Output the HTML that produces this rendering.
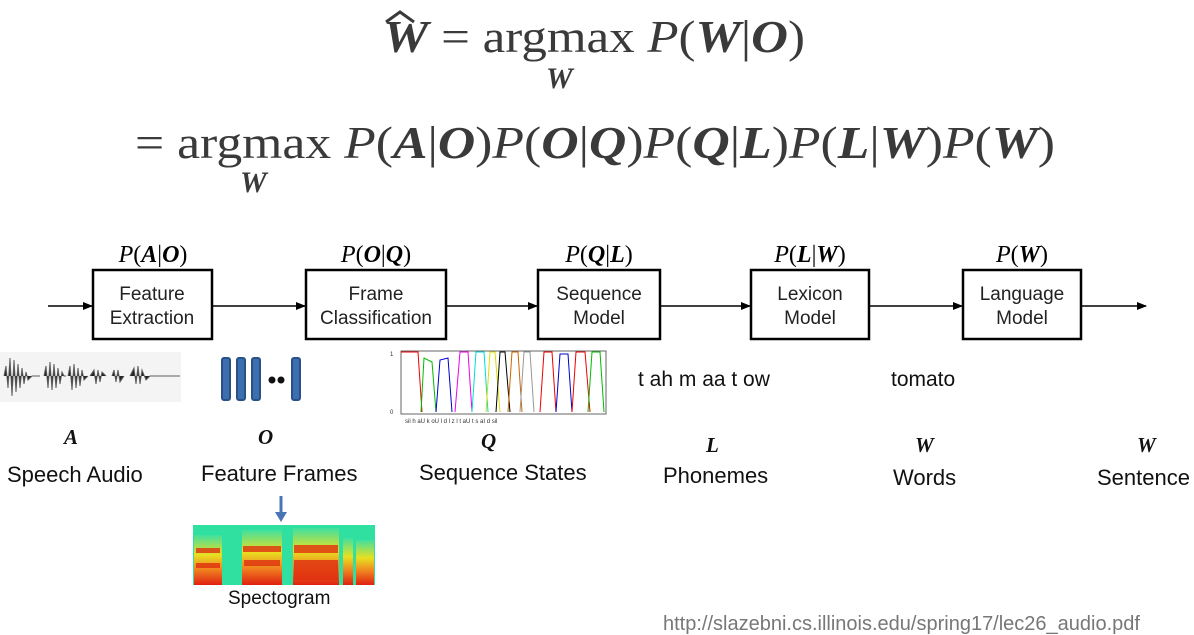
<!DOCTYPE html>
<html><head><meta charset="utf-8"><style>body{margin:0;background:#fff}svg{display:block}</style></head><body>
<svg width="1194" height="635" xmlns="http://www.w3.org/2000/svg" font-family="Liberation Sans, sans-serif">
<defs><marker id="a" markerWidth="10" markerHeight="8" refX="9" refY="4" orient="auto" markerUnits="userSpaceOnUse"><path d="M0,0 L10,4 L0,8 z" fill="#000"/></marker></defs>
<g fill="#3a3a3a" font-family="Liberation Serif, serif" font-size="46">
<text x="383" y="52" textLength="422" lengthAdjust="spacingAndGlyphs"><tspan font-weight="bold" font-style="italic">W</tspan> = argmax <tspan font-style="italic">P</tspan>(<tspan font-weight="bold" font-style="italic">W</tspan>|<tspan font-weight="bold" font-style="italic">O</tspan>)</text>
<path d="M386,22 L400,12 L414,22" stroke="#3a3a3a" stroke-width="3" fill="none"/>
<text x="546" y="88" font-size="30" font-weight="bold" font-style="italic">W</text>
<text x="135" y="158" textLength="920" lengthAdjust="spacingAndGlyphs">= argmax <tspan font-style="italic">P</tspan>(<tspan font-weight="bold" font-style="italic">A</tspan>|<tspan font-weight="bold" font-style="italic">O</tspan>)<tspan font-style="italic">P</tspan>(<tspan font-weight="bold" font-style="italic">O</tspan>|<tspan font-weight="bold" font-style="italic">Q</tspan>)<tspan font-style="italic">P</tspan>(<tspan font-weight="bold" font-style="italic">Q</tspan>|<tspan font-weight="bold" font-style="italic">L</tspan>)<tspan font-style="italic">P</tspan>(<tspan font-weight="bold" font-style="italic">L</tspan>|<tspan font-weight="bold" font-style="italic">W</tspan>)<tspan font-style="italic">P</tspan>(<tspan font-weight="bold" font-style="italic">W</tspan>)</text>
<text x="240" y="192" font-size="30" font-weight="bold" font-style="italic">W</text>
</g>
<g font-family="Liberation Serif, serif" font-size="24" fill="#000" text-anchor="middle">
<text x="153" y="262"><tspan font-style="italic">P</tspan>(<tspan font-weight="bold" font-style="italic">A</tspan>|<tspan font-weight="bold" font-style="italic">O</tspan>)</text>
<text x="376" y="262"><tspan font-style="italic">P</tspan>(<tspan font-weight="bold" font-style="italic">O</tspan>|<tspan font-weight="bold" font-style="italic">Q</tspan>)</text>
<text x="599" y="262"><tspan font-style="italic">P</tspan>(<tspan font-weight="bold" font-style="italic">Q</tspan>|<tspan font-weight="bold" font-style="italic">L</tspan>)</text>
<text x="810" y="262"><tspan font-style="italic">P</tspan>(<tspan font-weight="bold" font-style="italic">L</tspan>|<tspan font-weight="bold" font-style="italic">W</tspan>)</text>
<text x="1022" y="262"><tspan font-style="italic">P</tspan>(<tspan font-weight="bold" font-style="italic">W</tspan>)</text>
</g>
<g stroke="#000" stroke-width="1.5">
<line x1="48" y1="306" x2="92" y2="306" marker-end="url(#a)"/>
<line x1="212" y1="306" x2="305" y2="306" marker-end="url(#a)"/>
<line x1="446" y1="306" x2="537" y2="306" marker-end="url(#a)"/>
<line x1="660" y1="306" x2="750" y2="306" marker-end="url(#a)"/>
<line x1="869" y1="306" x2="962" y2="306" marker-end="url(#a)"/>
<line x1="1081" y1="306" x2="1146" y2="306" marker-end="url(#a)"/>
</g>
<g fill="#fff" stroke="#000" stroke-width="2.5">
<rect x="93" y="270" width="119" height="69"/><rect x="306" y="270" width="140" height="69"/>
<rect x="538" y="270" width="122" height="69"/><rect x="751" y="270" width="118" height="69"/>
<rect x="963" y="270" width="118" height="69"/>
</g>
<g font-size="19" fill="#222" text-anchor="middle">
<text x="152" y="300">Feature</text><text x="152" y="324">Extraction</text>
<text x="376" y="300">Frame</text><text x="376" y="324">Classification</text>
<text x="599" y="300">Sequence</text><text x="599" y="324">Model</text>
<text x="810" y="300">Lexicon</text><text x="810" y="324">Model</text>
<text x="1022" y="300">Language</text><text x="1022" y="324">Model</text>
</g>
<rect x="0" y="352" width="181" height="50" fill="#f4f4f4"/>
<g stroke="#444" stroke-width="1" opacity="0.85">
<path d="M4,376 L6,366 L8,388 L10,358 L12,396 L14,360 L16,392 L18,364 L20,388 L22,368 L24,384 L26,372 L28,380 L32,376 L40,376 M44,376 L46,366 L48,388 L50,362 L52,390 L54,364 L56,388 L58,368 L60,384 L62,372 L64,376 L66,376 M68,376 L70,366 L72,390 L74,364 L76,388 L78,368 L80,386 L82,370 L84,380 L88,376 M90,376 L94,370 L96,384 L98,370 L100,382 L102,372 L106,376 M112,376 L114,370 L116,382 L118,370 L120,382 L124,376 M130,376 L134,368 L136,384 L138,366 L140,384 L142,370 L146,380 L150,376 L180,376"/>
</g>
<g fill="#3b6fb0" stroke="#2a5088" stroke-width="2">
<rect x="222" y="358" width="8" height="42" rx="2"/><rect x="237" y="358" width="8" height="42" rx="2"/><rect x="252" y="358" width="8" height="42" rx="2"/><rect x="292" y="358" width="8" height="42" rx="2"/>
</g>
<circle cx="272" cy="380" r="3.5" fill="#111"/><circle cx="281" cy="380" r="3.5" fill="#111"/>
<g fill="none" stroke-width="1">
<rect x="401" y="351" width="205" height="63" stroke="#666"/>
<path d="M401,352 L418,352 L422,412" stroke="#e00"/>
<path d="M421,412 L424,358 L432,362 L436,412" stroke="#0b0"/>
<path d="M436,412 L440,360 L448,358 L452,412" stroke="#00c"/>
<path d="M455,412 L460,352 L468,352 L472,412" stroke="#e0e"/>
<path d="M472,412 L476,352 L484,352 L488,412" stroke="#0dd"/>
<path d="M486,412 L490,352 L495,352 L500,412" stroke="#dd0"/>
<path d="M496,412 L500,352 L505,352 L510,412" stroke="#000"/>
<path d="M508,412 L512,352 L518,352 L522,412" stroke="#c60"/>
<path d="M520,412 L524,352 L530,352 L534,412" stroke="#999"/>
<path d="M540,412 L544,352 L552,352 L556,412" stroke="#e00"/>
<path d="M556,412 L560,354 L568,354 L572,412" stroke="#00c"/>
<path d="M572,412 L576,352 L585,352 L590,412" stroke="#e00"/>
<path d="M588,412 L592,352 L600,352 L604,412" stroke="#0b0"/>
</g>
<g font-size="6" fill="#333"><text x="390" y="356">1</text><text x="390" y="414">0</text>
<text x="405" y="423">sil  h aU k oU l d l z l t aU t s aI d sil</text></g>
<g font-size="21" fill="#111">
<text x="638" y="386">t ah m aa t ow</text><text x="891" y="386">tomato</text>
<text x="7" y="482" font-size="22">Speech Audio</text><text x="201" y="481" font-size="22">Feature Frames</text>
<text x="419" y="480" font-size="22">Sequence States</text><text x="663" y="483" font-size="22">Phonemes</text>
<text x="893" y="485" font-size="22">Words</text><text x="1097" y="485" font-size="22">Sentence</text>
<text x="228" y="604" font-size="19">Spectogram</text>
<text x="663" y="630" font-size="20" fill="#777">http://slazebni.cs.illinois.edu/spring17/lec26_audio.pdf</text>
</g>
<g font-family="Liberation Serif, serif" font-size="21" font-weight="bold" font-style="italic" fill="#111">
<text x="64" y="444">A</text><text x="258" y="444">O</text><text x="481" y="448">Q</text>
<text x="706" y="452">L</text><text x="915" y="452">W</text><text x="1137" y="452">W</text>
</g>
<line x1="281" y1="496" x2="281" y2="514" stroke="#4a74b4" stroke-width="3"/>
<path d="M275,512 L287,512 L281,522 z" fill="#4a74b4"/>
<defs><linearGradient id="s" x1="0" y1="0" x2="0" y2="1"><stop offset="0" stop-color="#40e0a0"/><stop offset="0.4" stop-color="#e8e020"/><stop offset="0.7" stop-color="#f08020"/><stop offset="1" stop-color="#e02010"/></linearGradient></defs>
<rect x="193" y="525" width="182" height="60" fill="#30e0a0"/>
<g fill="url(#s)"><rect x="194" y="535" width="28" height="50"/><rect x="242" y="530" width="40" height="55"/><rect x="293" y="528" width="46" height="57"/><rect x="343" y="538" width="10" height="47"/><rect x="356" y="540" width="18" height="45"/></g>
<g fill="#e03010" opacity="0.8"><rect x="196" y="548" width="24" height="5"/><rect x="196" y="563" width="24" height="5"/><rect x="243" y="546" width="38" height="6"/><rect x="244" y="560" width="36" height="6"/><rect x="294" y="545" width="44" height="8"/><rect x="294" y="560" width="44" height="20"/></g>
</svg>
</body></html>
